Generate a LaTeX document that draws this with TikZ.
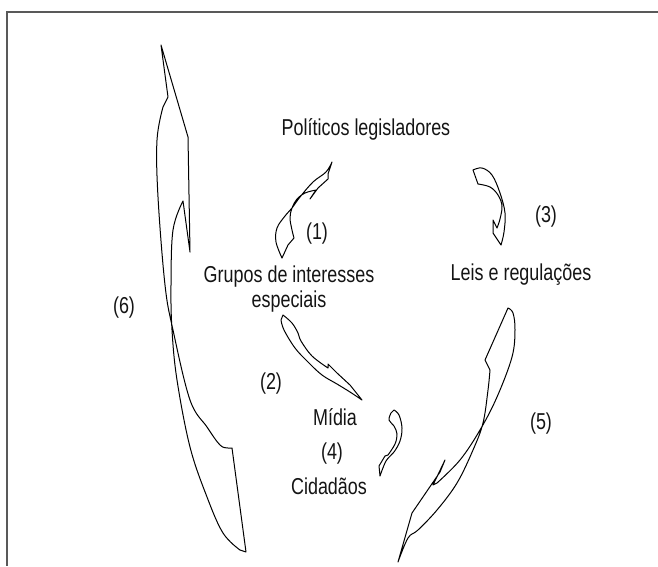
\documentclass[tikz,border=0pt]{standalone}
\usepackage{fontspec}
\setmainfont[FakeStretch=0.78]{Liberation Sans}
\definecolor{bordergray}{gray}{0.35}
\definecolor{txt}{gray}{0.08}
\begin{document}
\begin{tikzpicture}[x=1pt,y=-1pt,
  arr/.style={draw=black,line width=1pt,line join=round},
  lbl/.style={font=\fontsize{23}{25}\selectfont,text=txt,inner sep=0pt,anchor=base}]
\useasboundingbox (0,0) rectangle (658,566);
\draw[bordergray,line width=1.3pt] (658,12) -- (7,12) -- (7,566);

% labels
\node[lbl] (pol)  at (366,135.5) {Políticos legisladores};
\node[lbl] (grp)  at (289,282) {Grupos de interesses};
\node[lbl] (esp)  at (289,307) {especiais};
\node[lbl] (leis) at (521,280) {Leis e regulações};
\node[lbl] (midia) at (335,425) {Mídia};
\node[lbl] (cid)  at (329,494) {Cidadãos};
\node[lbl] (n1) at (317,239) {(1)};
\node[lbl] (n2) at (271,389) {(2)};
\node[lbl] (n3) at (546,222) {(3)};
\node[lbl] (n4) at (332,459) {(4)};
\node[lbl] (n5) at (541,429) {(5)};
\node[lbl] (n6) at (124,313) {(6)};

% arrow (6)
\draw[arr] (161,45) -- (168,97) -- (163,107)
  -- plot[smooth,tension=0.6] coordinates {(163,107) (157,140) (158,197) (165,285) (173,330) (190,400) (207,427) (220,445) (228,448) (232,448)}
  -- (246,552)
  -- plot[smooth,tension=0.6] coordinates {(240,550) (223,533) (207,497) (190,447) (177,380) (172,330) (171,285) (173,230) (183,201)}
  -- (190,252) -- (188,137) -- cycle;

% arrow (1)
\draw[arr] (282,258)
  -- plot[smooth,tension=0.6] coordinates {(282,258) (276,242) (277,228) (285,216) (292,208) (300,197) (313,182) (326,172) (332,162)}
  -- (328,174) -- (328,179) -- (318,188) -- (310,199) -- (316,190)
  -- plot[smooth,tension=0.6] coordinates {(316,190) (305,193) (297,199) (292,208) (290,218) (292,230) (294,238)}
  -- (288,245) -- cycle;

% arrow (3)
\draw[arr] (473,170)
  -- plot[smooth,tension=0.6] coordinates {(473,170) (482,168) (492,175) (500,193) (505,213) (504,232) (501,245)}
  -- (493,233) -- (493,220) -- (497,228)
  -- plot[smooth,tension=0.6] coordinates {(497,228) (500,219) (502,206) (498,195) (490,187) (478,184)}
  -- cycle;

% arrow (2)
\draw[arr] (283,315)
  -- plot[smooth,tension=0.6] coordinates {(283,315) (292,323) (298,333) (301,341) (312,356) (328,368)}
  -- (328,364) -- (337,373) -- (350,385) -- (362,400)
  -- plot[smooth,tension=0.6] coordinates {(362,400) (350,392) (337,384) (322,375) (308,362) (295,348) (284,330) (281,320)}
  -- cycle;

% arrow (4)
\draw[arr] (394,410)
  -- plot[smooth,tension=0.6] coordinates {(394,410) (399,415) (402,428) (400,441) (394,452) (386,461) (380,476)}
  -- (379,466) -- (385,456) -- (388,455)
  -- plot[smooth,tension=0.6] coordinates {(388,455) (395,444) (397,434) (394,426) (389,420) (391,413)}
  -- cycle;

% arrow (5)
\draw[arr] (508,308)
  -- plot[smooth,tension=0.6] coordinates {(508,308) (513,313) (515,330) (512,357) (497,397) (480,430) (460,460) (437,483)}
  -- (433,485) -- (445,460) -- (440,472) -- (412,513) -- (398,562)
  -- plot[smooth,tension=0.6] coordinates {(398,562) (408,538) (418,530) (437,510) (457,483) (473,450) (483,423) (488,390) (490,370)}
  -- (485,360) -- cycle;
\end{tikzpicture}
\end{document}
